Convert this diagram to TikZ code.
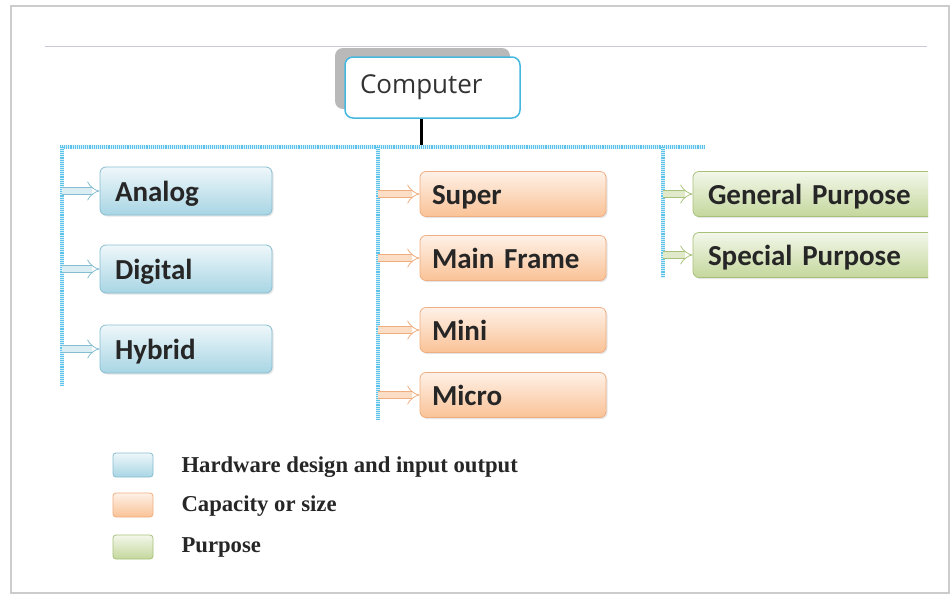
\documentclass[tikz,border=0pt]{standalone}
\usepackage{fontspec}
\setmainfont{Liberation Serif}
\newfontfamily\labelfont{Carlito}
\newfontfamily\rootfont{Open Sans}
\usetikzlibrary{arrows.meta,shadows}
\definecolor{hwtop}{HTML}{EEF7FA}
\definecolor{hwbot}{HTML}{A8D5E4}
\definecolor{hwline}{HTML}{86BDD0}
\definecolor{captop}{HTML}{FEF1E7}
\definecolor{capbot}{HTML}{FAC296}
\definecolor{capline}{HTML}{F0AE80}
\definecolor{purtop}{HTML}{F3F7EA}
\definecolor{purbot}{HTML}{C4D79C}
\definecolor{purline}{HTML}{A8C17A}
\definecolor{rootline}{HTML}{45B8E0}
\definecolor{barblue}{HTML}{5EC3EB}
\tikzset{
 frame/.style={draw=gray!40,line width=1.4pt},
 rule/.style={draw=blue!20!gray!35,line width=1pt},
 root/.style={rounded corners=8pt,draw=rootline,line width=1.5pt,fill=white,minimum height=61pt,text width=145pt,inner xsep=15pt,align=left,text height=19pt,text depth=8pt,font=\rootfont\fontsize{26}{28}\selectfont,text=black!80,general shadow={shadow xshift=-10pt,shadow yshift=9pt,fill=gray!55,rounded corners=8pt}},
 stem/.style={line width=3pt,black},
 bar/.style={draw=barblue,line width=4pt,dash pattern=on 1pt off .9pt,preaction={draw=barblue!25,solid,line width=4pt}},
 kindbox/.style={rounded corners=6pt,line width=.8pt,align=left,text height=20pt,text depth=0pt,font=\labelfont\bfseries\fontsize{29}{30}\selectfont,text=black!85,drop shadow={shadow xshift=1.5pt,shadow yshift=-1.5pt,fill=gray!50,opacity=.4}},
 hwbox/.style={kindbox,top color=hwtop,bottom color=hwbot,draw=hwline,minimum height=48pt,text width=142pt,inner xsep=15pt},
 capbox/.style={kindbox,top color=captop,bottom color=capbot,draw=capline,minimum height=45pt,text width=162pt,inner xsep=12pt},
 purbox/.style={kindbox,top color=purtop,bottom color=purbot,draw=purline,minimum height=45pt,text width=217pt,inner xsep=15pt},
 hwarrow/.style={draw=hwline,double=hwtop!70!hwbot,double distance=6pt,line width=.8pt,-{Implies[scale=1.5]}},
 caparrow/.style={draw=capline,double=captop!60!capbot,double distance=6pt,line width=.8pt,-{Implies[scale=1.5]}},
 purarrow/.style={draw=purline,double=purtop!60!purbot,double distance=6pt,line width=.8pt,-{Implies[scale=1.5]}},
 keybox/.style={rounded corners=3pt,line width=.8pt,minimum width=40pt,minimum height=24pt,inner sep=0pt},
 keytext/.style={anchor=base west,font=\bfseries\fontsize{22.7}{24}\selectfont,text=black!85}
}
\begin{document}
\begin{tikzpicture}[x=1pt,y=-1pt]
\path[use as bounding box] (0,0) rectangle (951,598);
\draw[frame] (11,6) rectangle (949,593);
\draw[rule] (45,46) -- (927,46);
\node[root] (Computer) at (432.5,87.5) {Computer};
\coordinate (stem) at (421,147);
\coordinate (barL) at (62,147);
\coordinate (barM) at (378,147);
\coordinate (barR) at (663,147);
\coordinate (barEnd) at (705,147);
\draw[stem] (stem |- Computer.south) -- (stem);
\draw[bar] (60,147) -- (barEnd);
\draw[bar] (barL) -- ++(0,238);
\draw[bar] (barM) -- ++(0,273);
\draw[bar] (barR) -- ++(0,131);
\node[hwbox] (Analog) at (186,191) {Analog};
\node[hwbox] (Digital) at (186,269) {Digital};
\node[hwbox] (Hybrid) at (186,349) {Hybrid};
\draw[hwarrow] (barL |- Analog.west) -- (Analog.west);
\draw[hwarrow] (barL |- Digital.west) -- (Digital.west);
\draw[hwarrow] (barL |- Hybrid.west) -- (Hybrid.west);
\node[capbox] (Super) at (513,194) {Super};
\node[capbox] (MainFrame) at (513,258) {Main Frame};
\node[capbox] (Mini) at (513,330) {Mini};
\node[capbox] (Micro) at (513,395) {Micro};
\draw[caparrow] (barM |- Super.west) -- (Super.west);
\draw[caparrow] (barM |- MainFrame.west) -- (MainFrame.west);
\draw[caparrow] (barM |- Mini.west) -- (Mini.west);
\draw[caparrow] (barM |- Micro.west) -- (Micro.west);
\begin{scope}
\clip (0,0) rectangle (928,598);
\node[purbox] (General) at (816.5,194) {General Purpose};
\node[purbox] (Special) at (816.5,255) {Special Purpose};
\end{scope}
\draw[purarrow] (barR |- General.west) -- (General.west);
\draw[purarrow] (barR |- Special.west) -- (Special.west);
\node[keybox,top color=hwtop,bottom color=hwbot,draw=hwline] (keyHw) at (133,465) {};
\node[keybox,top color=captop,bottom color=capbot,draw=capline] (keyCap) at (133,505) {};
\node[keybox,top color=purtop,bottom color=purbot,draw=purline] (keyPur) at (133,547) {};
\node[keytext] (textHw) at (178,472) {Hardware design and input output};
\node[keytext] (textCap) at (178,511) {Capacity or size};
\node[keytext] (textPur) at (178,552) {Purpose};
\end{tikzpicture}
\end{document}
